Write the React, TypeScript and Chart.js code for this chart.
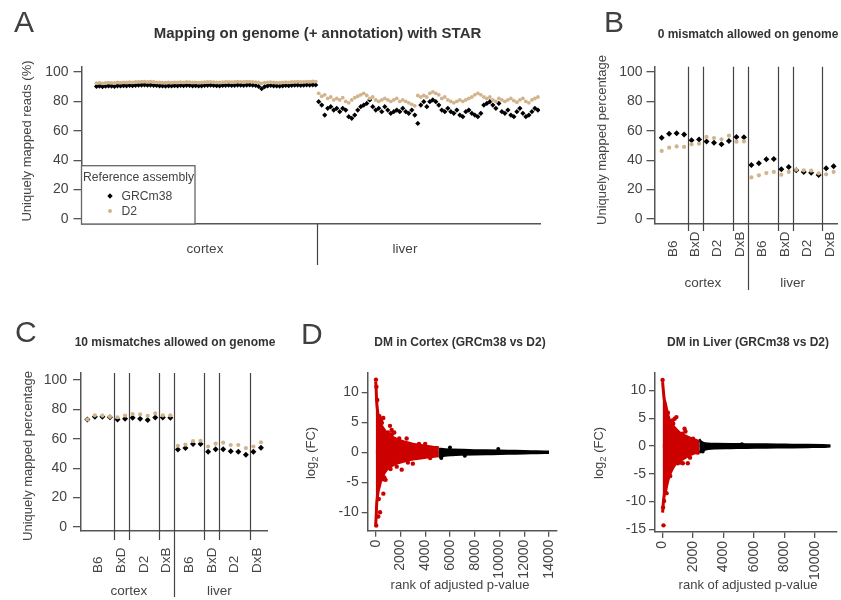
import React, { useEffect, useRef } from "react";
import { Chart, registerables } from "chart.js";

Chart.register(...registerables);

const W = 841;
const H = 600;
const FONT = "'Liberation Sans', Arial, Helvetica, sans-serif";
const TEXT = "#333333";
const TICK = "#444444";
const AXIS = "#555555";
const TAN = "#D2B48C";
const BLACK = "#000000";
const RED = "#CD0000";

// ---------------- Panel A data ----------------
const aCortexGRCm38 = [
  90.2, 90.4, 90.1, 90.3, 90.5, 90.4, 90.2, 90.6, 90.5, 90.7,
  90.6, 90.8, 90.7, 90.9, 91.0, 91.1, 91.2, 91.0, 91.1, 90.9,
  90.8, 90.6, 90.5, 90.4, 90.6, 90.5, 90.7, 90.6, 90.8, 90.7,
  90.9, 90.8, 90.6, 90.7, 90.5, 90.6, 90.8, 90.9, 91.0, 90.8,
  90.7, 90.6, 90.8, 90.9, 91.0, 90.8, 90.9, 91.1, 91.0, 90.9,
  91.1, 91.2, 91.0, 90.8, 90.2, 88.6, 90.0, 90.6, 90.8, 90.6,
  90.5, 90.4, 90.6, 90.8, 90.7, 90.9, 91.0, 91.1, 90.9, 91.0,
  91.2, 91.1, 91.3, 91.2,
];
const aCortexD2 = [
  92.4, 92.6, 92.3, 92.5, 92.8, 92.6, 92.5, 92.9, 92.7, 93.0,
  92.9, 93.1, 93.0, 93.2, 93.3, 93.4, 93.5, 93.3, 93.4, 93.2,
  93.0, 92.9, 92.8, 92.7, 92.9, 92.8, 93.0, 92.9, 93.1, 93.0,
  93.2, 93.1, 92.9, 93.0, 92.8, 92.9, 93.1, 93.2, 93.3, 93.1,
  93.0, 92.9, 93.1, 93.2, 93.3, 93.1, 93.2, 93.4, 93.3, 93.2,
  93.4, 93.5, 93.3, 93.1, 92.9, 92.2, 92.8, 93.0, 93.1, 92.9,
  92.8, 92.7, 92.9, 93.1, 93.0, 93.2, 93.3, 93.4, 93.2, 93.3,
  93.5, 93.4, 93.6, 93.5,
];
const aLiverGRCm38 = [
  79.8, 77.5, 70.7, 75.3, 76.4, 74.1, 75.3, 73, 75.3, 74.1,
  69.6, 68.5, 70.7, 74.1, 76.4, 77.5, 78.6, 81, 76.4, 74.1,
  75.3, 73, 76.4, 74.1, 71.9, 73, 74.1, 73, 75.3, 73,
  71.9, 74.1, 70.7, 65, 77.5, 79.8, 76.4, 79.8, 81, 79.8,
  77.5, 74.1, 73, 75.3, 73, 71.9, 74.1, 70.7, 69.6, 73,
  74.1, 71.9, 70.7, 69.6, 71.9, 77.5, 78.6, 79.8, 77.5, 75.3,
  78.6, 73, 71.9, 74.1, 70.7, 69.6, 73, 75.3, 71.9, 69.6,
  70.7, 73, 75.3, 74.1,
];
const aLiverD2 = [
  85.5, 83.5, 84.5, 82, 83, 81, 82, 81, 82.5, 80,
  79, 81, 82.5, 83.5, 84.5, 85.5, 84, 82, 83, 81,
  80, 81, 82, 81, 80, 81, 82, 80, 81, 80,
  79, 78, 77, 84, 83, 84, 83, 85.5, 86.5, 85.5,
  84.5, 82, 83, 81, 80, 79, 80, 81, 80, 81,
  82, 83, 84.5, 85.5, 84.5, 83, 82, 83, 81, 80,
  82, 81, 80, 81, 82, 80.5, 79.5, 81, 82, 80,
  79, 81, 82, 83,
];
const aTissues = ["cortex", "liver"];
const legendTitle = "Reference assembly";
const seriesNames = ["GRCm38", "D2"];

// ---------------- Panels B & C data ----------------
const strains = ["B6", "BxD", "D2", "DxB"];
const strainSizes = [4, 2, 4, 2];
const tissues = ["cortex", "liver"];
const bGRCm38 = [55.3, 58.0, 58.3, 57.4, 53.5, 54.0, 52.8, 51.9, 50.8, 53.1, 55.8, 55.6, 36.7, 37.9, 40.6, 40.8, 33.8, 35.4, 33.1, 32.0, 31.5, 29.9, 34.5, 35.8];
const bD2 = [46.3, 48.5, 49.4, 49.0, 50.8, 51.2, 55.8, 55.1, 54.2, 56.7, 52.6, 52.8, 28.3, 29.7, 31.3, 32.0, 30.1, 32.0, 33.5, 33.1, 32.9, 31.1, 30.4, 32.0];
const cGRCm38 = [73.2, 75.0, 75.0, 74.7, 73.2, 73.6, 74.3, 73.6, 72.9, 74.5, 74.5, 74.3, 52.8, 53.7, 56.5, 56.5, 51.2, 53.0, 53.0, 51.5, 51.2, 49.2, 51.2, 54.0];
const cD2 = [73.2, 76.0, 75.8, 75.0, 74.7, 75.8, 76.9, 76.6, 75.7, 77.3, 76.0, 76.0, 55.3, 56.0, 58.5, 58.7, 54.8, 56.7, 57.4, 55.8, 55.8, 53.7, 54.8, 57.7];
const pctTicks = [0, 20, 40, 60, 80, 100];

// ---------------- Panel D data ----------------
// edge of the dense significant (red) cloud, cortex
const dCortexRedX = [0, 40, 80, 130, 200, 300, 420, 600, 800, 1100, 1400, 1800, 2300, 3000, 3800, 4600, 5100];
const dCortexRedHi = [11.8, 10.3, 8.4, 7.3, 6.1, 5.3, 4.6, 4.0, 3.4, 2.9, 2.45, 2.05, 1.7, 1.35, 1.1, 0.85, 0.75];
const dCortexRedLo = [-12.0, -10.6, -8.6, -7.6, -6.5, -5.7, -4.6, -3.8, -3.1, -2.5, -2.1, -1.75, -1.45, -1.15, -0.9, -0.7, -0.6];
// isolated red points, cortex
const dCortexRedOutX = [20, 40, 60, 130, 210, 350, 615, 620, 1155, 1290, 1700, 2100, 1500, 2500, 3000, 800, 4000, 450, 250, 300, 500, 700, 1000, 1200, 1900, 2600, 3500, 4400, 600, 1300];
const dCortexRedOutY = [12.1, -12.2, 10.9, 8.7, -10.7, -10.0, 5.7, -6.9, 4.4, 3.7, -2.4, -2.9, 3.3, 2.3, -1.9, -4.6, 1.4, 5.5, -7.8, 6.0, 4.9, -4.2, 3.3, -2.8, 2.3, -1.7, 1.4, -0.95, -4.5, 3.0];
const dCortexBlackX = [5100, 5600, 6200, 7000, 8000, 9000, 10000, 11000, 12000, 13000, 14000];
const dCortexBlackHi = [0.55, 0.45, 0.4, 0.35, 0.3, 0.28, 0.25, 0.2, 0.15, 0.12, 0.08];
const dCortexBlackLo = [-0.8, -0.55, -0.45, -0.38, -0.32, -0.28, -0.25, -0.2, -0.15, -0.12, -0.08];
const dCortexBlackOutX = [5300, 6000, 7200, 9900];
const dCortexBlackOutY = [-0.95, 0.8, -0.6, 0.55];

const dLiverRedX = [0, 40, 100, 180, 290, 420, 600, 820, 1100, 1400, 1800, 2200, 2400];
const dLiverRedHi = [11.5, 10.3, 8.6, 7.7, 6.2, 4.9, 3.8, 3.2, 2.4, 1.9, 1.4, 1.0, 0.8];
const dLiverRedLo = [-12.0, -10.5, -9.0, -8.3, -6.9, -5.5, -4.3, -3.3, -2.7, -2.2, -1.6, -1.15, -0.9];
const dLiverRedOutX = [0, 60, 30, 795, 905, 1440, 1330, 1655, 260, 100, 1500, 1800, 1200, 650, 350, 500, 700, 1000, 1300, 2000, 2300];
const dLiverRedOutY = [11.9, -14.3, -11.1, 4.9, 5.2, 3.1, -3.1, -3.1, -8.5, -9.9, 2.6, -2.1, -3.0, 4.6, 6.0, -5.4, 4.0, -3.1, 2.2, 1.3, -1.2];
const dLiverBlackX = [2400, 2500, 2700, 3000, 3500, 4500, 5500, 6500, 7500, 8500, 9500, 10500, 11000];
const dLiverBlackHi = [1.2, 0.8, 0.5, 0.4, 0.35, 0.3, 0.28, 0.25, 0.22, 0.18, 0.15, 0.1, 0.06];
const dLiverBlackLo = [-1.2, -1.0, -0.7, -0.5, -0.4, -0.35, -0.3, -0.27, -0.24, -0.2, -0.16, -0.12, -0.06];
const dLiverBlackOutX = [2630, 5200];
const dLiverBlackOutY = [-1.0, 0.3];

const dCortexXTicks = [0, 2000, 4000, 6000, 8000, 10000, 12000, 14000];
const dLiverXTicks = [0, 2000, 4000, 6000, 8000, 10000];
const dCortexYTicks = [-10, -5, 0, 5, 10];
const dLiverYTicks = [-15, -10, -5, 0, 5, 10];

// ---------------- helpers ----------------
const Y_W = 60;
type Area = { l: number; t: number; r: number; b: number };
function padFor(a: Area, xH: number) {
  return { left: a.l - Y_W, top: a.t, right: W - a.r, bottom: H - a.b - xH };
}

function yAxis(min: number, max: number, ticks: number[], tickLen: number, pad: number) {
  return {
    type: "linear",
    position: "left",
    min,
    max,
    afterBuildTicks: (s: any) => {
      s.ticks = ticks.map((v) => ({ value: v }));
    },
    afterFit: (s: any) => {
      s.width = Y_W;
      s.paddingTop = 0;
      s.paddingBottom = 0;
    },
    ticks: { font: { family: FONT, size: 14 }, color: TICK, padding: pad, autoSkip: false, callback: (v: any) => String(v) },
    grid: { drawOnChartArea: false, drawTicks: true, tickLength: tickLen, color: AXIS, lineWidth: 1.3 },
    border: { display: true, color: AXIS, width: 1.5 },
  };
}

function xAxisPlain(min: number, max: number) {
  return {
    type: "linear",
    position: "bottom",
    min,
    max,
    afterFit: (s: any) => {
      s.height = 0;
      s.paddingLeft = 0;
      s.paddingRight = 0;
    },
    ticks: { display: false },
    grid: { display: false },
    border: { display: true, color: AXIS, width: 1.5 },
  };
}

function xAxisTicks(min: number, max: number, ticks: number[], xH: number) {
  return {
    type: "linear",
    position: "bottom",
    min,
    max,
    afterBuildTicks: (s: any) => {
      s.ticks = ticks.map((v) => ({ value: v }));
    },
    afterFit: (s: any) => {
      s.height = xH;
      s.paddingLeft = 0;
      s.paddingRight = 0;
    },
    ticks: { font: { family: FONT, size: 14 }, color: TICK, padding: 3, minRotation: 90, maxRotation: 90, autoSkip: false, callback: (v: any) => String(v) },
    grid: { drawOnChartArea: false, drawTicks: true, tickLength: 6, color: AXIS, lineWidth: 1.3 },
    border: { display: true, color: AXIS, width: 1.5 },
  };
}

function baseOptions(padding: any, scales: any) {
  return {
    responsive: false,
    maintainAspectRatio: false,
    animation: false,
    events: [],
    layout: { padding },
    plugins: { legend: { display: false }, tooltip: { enabled: false }, title: { display: false } },
    scales,
  };
}

function drawText(ctx: CanvasRenderingContext2D, s: string, x: number, y: number, o: any = {}) {
  ctx.save();
  ctx.font = `${o.bold ? "bold " : ""}${o.size ?? 13}px ${FONT}`;
  ctx.fillStyle = o.color ?? TEXT;
  ctx.textAlign = o.align ?? "center";
  ctx.textBaseline = o.baseline ?? "middle";
  ctx.translate(x, y);
  if (o.rotate) ctx.rotate(-Math.PI / 2);
  ctx.fillText(s, 0, 0);
  ctx.restore();
}

function vline(ctx: CanvasRenderingContext2D, x: number, y1: number, y2: number, color = "#444", w = 1.2) {
  ctx.save();
  ctx.strokeStyle = color;
  ctx.lineWidth = w;
  ctx.beginPath();
  const px = Math.round(x) + 0.5;
  ctx.moveTo(px, y1);
  ctx.lineTo(px, y2);
  ctx.stroke();
  ctx.restore();
}

function diamond(ctx: CanvasRenderingContext2D, x: number, y: number, r: number, color: string) {
  ctx.save();
  ctx.fillStyle = color;
  ctx.beginPath();
  ctx.moveTo(x, y - r);
  ctx.lineTo(x + r, y);
  ctx.lineTo(x, y + r);
  ctx.lineTo(x - r, y);
  ctx.closePath();
  ctx.fill();
  ctx.restore();
}
function dot(ctx: CanvasRenderingContext2D, x: number, y: number, r: number, color: string) {
  ctx.save();
  ctx.fillStyle = color;
  ctx.beginPath();
  ctx.arc(x, y, r, 0, Math.PI * 2);
  ctx.fill();
  ctx.restore();
}

function groupLayout() {
  const bounds: { x: number; tissue: boolean }[] = [];
  const centers: { label: string; x: number }[] = [];
  const tissueCenters: { label: string; x: number }[] = [];
  let pos = 0;
  tissues.forEach((t) => {
    const start = pos;
    strainSizes.forEach((n, si) => {
      centers.push({ label: strains[si], x: pos + (n + 1) / 2 });
      pos += n;
      bounds.push({ x: pos + 0.5, tissue: si === strainSizes.length - 1 });
    });
    tissueCenters.push({ label: t, x: start + (pos - start + 1) / 2 });
  });
  bounds.pop();
  return { bounds, centers, tissueCenters };
}

function pctDatasets(grc: number[], d2: number[], rBlack: number, rTan: number) {
  return [
    {
      label: seriesNames[1],
      data: d2.map((y, i) => ({ x: i + 1, y })),
      pointStyle: "circle",
      pointRadius: rTan,
      backgroundColor: TAN,
      borderWidth: 0,
    },
    {
      label: seriesNames[0],
      data: grc.map((y, i) => ({ x: i + 1, y })),
      pointStyle: "rectRot",
      pointRadius: rBlack,
      backgroundColor: BLACK,
      borderWidth: 0,
    },
  ];
}

// each edge of a dense cloud is filled slightly past the zero line so both halves overlap
function band(xs: number[], hi: number[], lo: number[], color: string, bw: number, overlap: number) {
  const edge = (ys: number[], to: number) => ({
    data: xs.map((x, i) => ({ x, y: ys[i] })),
    showLine: true,
    pointRadius: 0,
    borderColor: color,
    backgroundColor: color,
    borderWidth: bw,
    fill: { value: to },
    cubicInterpolationMode: "monotone",
  });
  return [edge(hi, -overlap), edge(lo, overlap)];
}
function pts(xs: number[], ys: number[], color: string, r: number) {
  return { data: xs.map((x, i) => ({ x, y: ys[i] })), pointRadius: r, pointStyle: "circle", backgroundColor: color, borderWidth: 0, showLine: false };
}

// ---------------- chart builders ----------------
function buildA(canvas: HTMLCanvasElement) {
  const area = { l: 81.5, t: 66.7, r: 540, b: 224 };
  const nC = aCortexGRCm38.length;
  const grc = [...aCortexGRCm38, ...aLiverGRCm38];
  const d2 = [...aCortexD2, ...aLiverD2];
  const plugin = {
    id: "panelA",
    afterDraw(chart: any) {
      const { ctx, chartArea: a, scales } = chart;
      const x = scales.x;
      drawText(ctx, "A", 14, 32, { size: 30, align: "left", baseline: "alphabetic", color: "#404040" });
      drawText(ctx, "Mapping on genome (+ annotation) with STAR", 317.5, 34, { size: 15, bold: true });
      drawText(ctx, "Uniquely mapped reads (%)", 27, 141, { size: 13, rotate: true, color: TICK });
      vline(ctx, x.getPixelForValue(nC + 0.5), a.bottom, a.bottom + 41, "#444", 1.2);
      drawText(ctx, aTissues[0], 205, 249, { size: 13.5, color: TICK });
      drawText(ctx, aTissues[1], 405, 249, { size: 13.5, color: TICK });
      // legend
      const lx = a.left, ly = 165.7, lw = 113.5, lh = a.bottom - 165.7;
      ctx.save();
      ctx.fillStyle = "#ffffff";
      ctx.fillRect(lx, ly, lw, lh);
      ctx.strokeStyle = "#666";
      ctx.lineWidth = 1.3;
      ctx.strokeRect(lx, ly, lw, lh);
      ctx.restore();
      drawText(ctx, legendTitle, lx + 1.5, 178, { size: 12.2, align: "left", color: TICK });
      diamond(ctx, 110, 196, 2.7, BLACK);
      drawText(ctx, seriesNames[0], 121.5, 196.5, { size: 12.2, align: "left", color: TICK });
      dot(ctx, 110, 211, 2, TAN);
      drawText(ctx, seriesNames[1], 121.5, 211.5, { size: 12.2, align: "left", color: TICK });
    },
  };
  return new Chart(canvas, {
    type: "scatter",
    data: { datasets: pctDatasets(grc, d2, 2.6, 1.9) as any },
    options: baseOptions(padFor(area, 0), {
      x: xAxisPlain(-4, 148.7),
      y: yAxis(-3.4, 103.6, pctTicks, 8, 5),
    }) as any,
    plugins: [plugin],
  });
}

function buildPct(
  canvas: HTMLCanvasElement,
  area: Area,
  grc: number[],
  d2: number[],
  xr: [number, number],
  yr: [number, number],
  o: any
) {
  const g = groupLayout();
  const plugin = {
    id: "panelPct",
    beforeDatasetsDraw(chart: any) {
      const { ctx, chartArea: a, scales } = chart;
      g.bounds.forEach((b) => {
        vline(ctx, scales.x.getPixelForValue(b.x), a.top, a.bottom + (b.tissue ? 66 : o.lineBelow), "#444", 1.2);
      });
    },
    afterDraw(chart: any) {
      const { ctx, chartArea: a, scales } = chart;
      drawText(ctx, o.letter, o.letterX, o.letterY, { size: 30, align: "left", baseline: "alphabetic", color: "#404040" });
      drawText(ctx, o.title, o.titleX, o.titleY, { size: 12, bold: true });
      drawText(ctx, "Uniquely mapped percentage", o.yTitleX, o.yTitleY, { size: 13, rotate: true, color: TICK });
      g.centers.forEach((c) => {
        drawText(ctx, c.label, scales.x.getPixelForValue(c.x), a.bottom + o.labelBottom, { size: 13.5, rotate: true, align: "left", color: TICK });
      });
      g.tissueCenters.forEach((c) => {
        drawText(ctx, c.label, scales.x.getPixelForValue(c.x), a.bottom + o.tissueY, { size: 13.5, color: TICK });
      });
    },
  };
  return new Chart(canvas, {
    type: "scatter",
    data: { datasets: pctDatasets(grc, d2, 3, 2.1) as any },
    options: baseOptions(padFor(area, 0), {
      x: xAxisPlain(xr[0], xr[1]),
      y: yAxis(yr[0], yr[1], pctTicks, 8, o.tickPad),
    }) as any,
    plugins: [plugin],
  });
}

function drawLog2(ctx: CanvasRenderingContext2D, cx: number, cy: number) {
  ctx.save();
  ctx.translate(cx, cy);
  ctx.rotate(-Math.PI / 2);
  ctx.fillStyle = TICK;
  ctx.textBaseline = "alphabetic";
  ctx.textAlign = "left";
  const big = `13px ${FONT}`;
  const small = `9.5px ${FONT}`;
  ctx.font = big;
  const w1 = ctx.measureText("log").width;
  const w3 = ctx.measureText(" (FC)").width;
  ctx.font = small;
  const w2 = ctx.measureText("2").width;
  let x = -(w1 + w2 + w3) / 2;
  const base = 4.5;
  ctx.font = big;
  ctx.fillText("log", x, base);
  x += w1;
  ctx.font = small;
  ctx.fillText("2", x, base + 3.5);
  x += w2;
  ctx.font = big;
  ctx.fillText(" (FC)", x, base);
  ctx.restore();
}

function buildD(canvas: HTMLCanvasElement, area: Area, cfg: any) {
  const plugin = {
    id: "panelD",
    afterDraw(chart: any) {
      const { ctx } = chart;
      if (cfg.letter) drawText(ctx, cfg.letter, 301, 344, { size: 30, align: "left", baseline: "alphabetic", color: "#404040" });
      drawText(ctx, cfg.title, cfg.titleX, 343, { size: 12, bold: true });
      drawLog2(ctx, cfg.yTitleX, 453);
      drawText(ctx, "rank of adjusted p-value", cfg.titleX, 585, { size: 13, color: TICK });
    },
  };
  const datasets = [
    pts(cfg.redOutX, cfg.redOutY, RED, 2.2),
    pts(cfg.blackOutX, cfg.blackOutY, BLACK, 2),
    ...band(cfg.redX, cfg.redHi, cfg.redLo, RED, 3, 0.3),
    ...band(cfg.blackX, cfg.blackHi, cfg.blackLo, BLACK, 2.6, 0.04),
  ];
  return new Chart(canvas, {
    type: "scatter",
    data: { datasets: datasets as any },
    options: baseOptions(padFor(area, 55), {
      x: xAxisTicks(cfg.xMin, cfg.xMax, cfg.xTicks, 55),
      y: yAxis(cfg.yMin, cfg.yMax, cfg.yTicks, 6, 3),
    }) as any,
    plugins: [plugin],
  });
}

export default function App() {
  const r0 = useRef<HTMLCanvasElement>(null);
  const r1 = useRef<HTMLCanvasElement>(null);
  const r2 = useRef<HTMLCanvasElement>(null);
  const r3 = useRef<HTMLCanvasElement>(null);
  const r4 = useRef<HTMLCanvasElement>(null);
  const refs = [r0, r1, r2, r3, r4];

  useEffect(() => {
    const charts: Chart[] = [];
    charts.push(buildA(r0.current!));
    charts.push(
      buildPct(r1.current!, { l: 654.5, t: 66.7, r: 838, b: 224 }, bGRCm38, bD2, [0.04, 24.45], [-3.4, 103.6], {
        letter: "B", letterX: 604, letterY: 32,
        title: "0 mismatch allowed on genome", titleX: 748, titleY: 35,
        yTitleX: 602, yTitleY: 140,
        lineBelow: 7, labelBottom: 33, tissueY: 59, tickPad: 4,
      })
    );
    charts.push(
      buildPct(r2.current!, { l: 81, t: 373, r: 267, b: 531 }, cGRCm38, cD2, [0.166, 24.8], [-2.7, 104.8], {
        letter: "C", letterX: 15, letterY: 342,
        title: "10 mismatches allowed on genome", titleX: 175, titleY: 342.5,
        yTitleX: 28, yTitleY: 456,
        lineBelow: 9, labelBottom: 42, tissueY: 60, tickPad: 6,
      })
    );
    charts.push(
      buildD(r3.current!, { l: 367.7, t: 373, r: 556.7, b: 530.7 }, {
        letter: "D", title: "DM in Cortex (GRCm38 vs D2)", titleX: 460, yTitleX: 310,
        xMin: -646, xMax: 14622, yMin: -13.07, yMax: 13.2,
        xTicks: dCortexXTicks, yTicks: dCortexYTicks,
        redX: dCortexRedX, redHi: dCortexRedHi, redLo: dCortexRedLo,
        redOutX: dCortexRedOutX, redOutY: dCortexRedOutY,
        blackX: dCortexBlackX, blackHi: dCortexBlackHi, blackLo: dCortexBlackLo,
        blackOutX: dCortexBlackOutX, blackOutY: dCortexBlackOutY,
      })
    );
    charts.push(
      buildD(r4.current!, { l: 655, t: 373, r: 840, b: 532 }, {
        letter: "", title: "DM in Liver (GRCm38 vs D2)", titleX: 748, yTitleX: 598,
        xMin: -498, xMax: 11436, yMin: -15.5, yMax: 13.15,
        xTicks: dLiverXTicks, yTicks: dLiverYTicks,
        redX: dLiverRedX, redHi: dLiverRedHi, redLo: dLiverRedLo,
        redOutX: dLiverRedOutX, redOutY: dLiverRedOutY,
        blackX: dLiverBlackX, blackHi: dLiverBlackHi, blackLo: dLiverBlackLo,
        blackOutX: dLiverBlackOutX, blackOutY: dLiverBlackOutY,
      })
    );
    return () => charts.forEach((c) => c.destroy());
  }, []);

  return (
    <div style={{ position: "absolute", left: 0, top: 0, width: W, height: H, background: "#ffffff", overflow: "hidden" }}>
      {refs.map((r, i) => (
        <canvas key={i} ref={r} width={W} height={H} style={{ position: "absolute", left: 0, top: 0, width: W, height: H }} />
      ))}
    </div>
  );
}
